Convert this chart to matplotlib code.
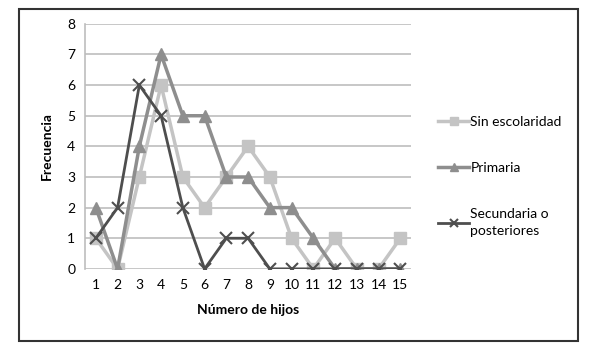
import matplotlib.pyplot as plt
from matplotlib.patches import Rectangle

hijos = list(range(1, 16))
sin_escolaridad = [1, 0, 3, 6, 3, 2, 3, 4, 3, 1, 0, 1, 0, 0, 1]
primaria = [2, 0, 4, 7, 5, 5, 3, 3, 2, 2, 1, 0, 0, 0, 0]
secundaria = [1, 2, 6, 5, 2, 0, 1, 1, 0, 0, 0, 0, 0, 0, 0]

plt.rcParams['font.family'] = ['Lato', 'DejaVu Sans']

fig = plt.figure(figsize=(5.9, 3.51), dpi=100)
ax = fig.add_axes([0.144, 0.234, 0.553, 0.698])

ax.plot(hijos, sin_escolaridad, color='#c4c4c4', lw=2.5, marker='s', ms=8,
        label='Sin escolaridad', zorder=3)
ax.plot(hijos, primaria, color='#8e8e8e', lw=2.5, marker='^', ms=8,
        label='Primaria', zorder=4)
ax.plot(hijos, secundaria, color='#4e4e4e', lw=2, marker='x', ms=8, mew=1.5,
        label='Secundaria o\nposteriores', zorder=5)

ax.set_xlim(0.5, 15.5)
ax.set_ylim(0, 8)
ax.set_xticks(hijos)
ax.set_yticks(range(0, 9))
ax.tick_params(length=0, labelsize=10, pad=7)
ax.yaxis.grid(True, color='#bdbdbd', lw=1.2)
ax.set_axisbelow(True)
for s in ['top', 'right', 'bottom']:
    ax.spines[s].set_visible(False)
ax.spines['left'].set_color('#bdbdbd')
ax.spines['left'].set_linewidth(1.2)

ax.set_xlabel('Número de hijos', fontsize=10, fontweight='bold', labelpad=10)
ax.set_ylabel('Frecuencia', fontsize=10, fontweight='bold', labelpad=10)

leg = fig.legend(loc='upper left', bbox_to_anchor=(0.722, 0.705), frameon=False,
                 fontsize=10, handlelength=2.2, handletextpad=0.1,
                 labelspacing=2.45, markerscale=0.8)
for t in leg.get_texts():
    t.set_linespacing(1.5)

fig.patches.append(Rectangle((0.032, 0.028), 0.948, 0.947, transform=fig.transFigure,
                             fill=False, edgecolor='#333333', lw=1.5))

plt.savefig('out.png', dpi=100)
